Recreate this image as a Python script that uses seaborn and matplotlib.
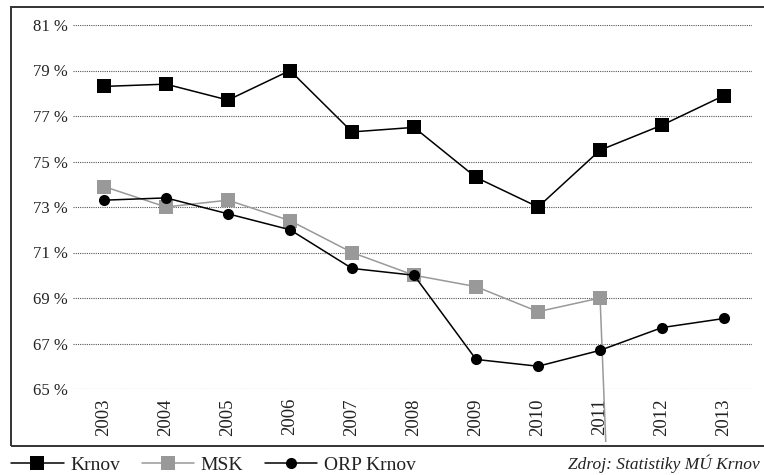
import numpy as np
import pandas as pd
import matplotlib
matplotlib.use("Agg")
import matplotlib.pyplot as plt
import seaborn as sns
from matplotlib.patches import Rectangle
from matplotlib.ticker import FuncFormatter

# Données (en %)
years = [2003, 2004, 2005, 2006, 2007, 2008, 2009, 2010, 2011, 2012, 2013]
krnov = [78.3, 78.4, 77.7, 79.0, 76.3, 76.5, 74.3, 73.0, 75.5, 76.6, 77.9]
# MSK : pas de valeur après 2011 (la série tombe à zéro en 2012)
msk_years = [2003, 2004, 2005, 2006, 2007, 2008, 2009, 2010, 2011, 2012]
msk = [73.9, 73.0, 73.3, 72.4, 71.0, 70.0, 69.5, 68.4, 69.0, 0.0]
orp_krnov = [73.3, 73.4, 72.7, 72.0, 70.3, 70.0, 66.3, 66.0, 66.7, 67.7, 68.1]
y_ticks = [65, 67, 69, 71, 73, 75, 77, 79, 81]
source_text = "Zdroj: Statistiky MÚ Krnov"

sns.set_theme(style="white")
plt.rcParams['font.family'] = ['Liberation Serif', 'DejaVu Serif']

W, H = 764, 475
fig = plt.figure(figsize=(W / 100, H / 100), dpi=100)
ax = fig.add_axes([73 / W, 1 - 389 / H, (752 - 73) / W, (389 - 25) / H])

sns.lineplot(x=years, y=krnov, ax=ax, color='black', marker='s',
             markersize=9.5, markeredgewidth=0, linewidth=1.1, label='Krnov')
sns.lineplot(x=msk_years, y=msk, ax=ax, color='#999999', marker='s',
             markersize=9.5, markeredgewidth=0, linewidth=1.1, label='MSK')
sns.lineplot(x=years, y=orp_krnov, ax=ax, color='black', marker='o',
             markersize=8, markeredgewidth=0, linewidth=1.1, label='ORP Krnov')

# La ligne MSK sort de la zone du graphique, coupée par le cadre extérieur
clip_rect = Rectangle((11 / W, 1 - 442 / H), 1, 435 / H,
                      transform=fig.transFigure, facecolor='none')
ax.lines[1].set_clip_path(clip_rect)

ax.set_xlim(2002.5, 2013.45)
ax.set_ylim(65, 81)
ax.set_yticks(y_ticks)
ax.set_xticks(years)
ax.set_xticklabels([str(y) for y in years], rotation=90)
ax.yaxis.set_major_formatter(FuncFormatter(lambda v, p: f"{int(v)} %"))
ax.tick_params(axis='y', length=0, pad=3.6, labelsize=12, colors='#222222')
ax.tick_params(axis='x', length=0, pad=6.5, labelsize=13.5, colors='#222222')
ax.set_xlabel('')
ax.set_ylabel('')

ax.grid(axis='y', linestyle=(0, (1, 1)), color='#555555', linewidth=0.8)
ax.grid(axis='x', visible=False)
for s in ax.spines.values():
    s.set_visible(False)
ax.patch.set_alpha(0)

# Cadre extérieur
frame = Rectangle((11 / W, 1 - 446 / H), (W + 10 - 11) / W, (446 - 7) / H,
                  transform=fig.transFigure, fill=False,
                  edgecolor='#333333', linewidth=1.4)
fig.patches.append(frame)

# Légende sous le cadre
leg = ax.legend(loc='center left', bbox_to_anchor=(11 / W, 1 - 465 / H),
                bbox_transform=fig.transFigure, ncol=3, frameon=False,
                fontsize=14, handlelength=2.7, handletextpad=0.35,
                columnspacing=1.1, borderaxespad=0, borderpad=0)
for t in leg.get_texts():
    t.set_color('#222222')

fig.text(760 / W, 1 - 464 / H, source_text, fontsize=12.5, style='italic',
         color='#222222', va='center', ha='right')

fig.savefig('out.png', dpi=100)
